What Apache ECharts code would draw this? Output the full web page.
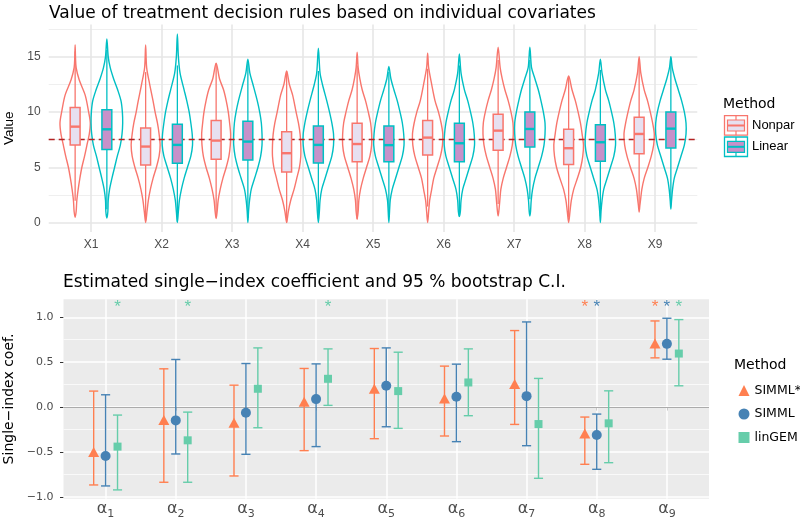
<!DOCTYPE html>
<html><head><meta charset="utf-8">
<script src="https://cdn.jsdelivr.net/npm/echarts@6/dist/echarts.min.js"></script>
<style>html,body{margin:0;padding:0;background:#fff}#c{width:800px;height:523px}</style>
</head><body><div id="c"></div>
<script>
// ===================== DATA: top panel =====================
const covariates = ['X1','X2','X3','X4','X5','X6','X7','X8','X9'];
const topMethods = ['Nonpar','Linear'];
const referenceValue = 7.55;
const topYTicks = [0, 5, 10, 15];
const topYMinor = [2.5, 7.5, 12.5, 17.5];

const nonparQ1 = [7.02, 5.2, 5.72, 4.58, 5.5, 6.11, 6.54, 5.24, 6.23];
const nonparMedian = [8.67, 6.87, 7.41, 6.27, 7.1, 7.68, 8.31, 6.72, 8.01];
const nonparQ3 = [10.39, 8.55, 9.22, 8.22, 8.98, 9.22, 9.79, 8.43, 9.52];
const nonparWhiskerLow = [1.97, 0.18, 0.47, 0, 0.3, 1.45, 1.67, 0.46, 1.3];
const nonparWhiskerHigh = [15.45, 13.6, 14.4, 13.68, 14.2, 13.9, 14.7, 13.2, 14.5];

const linearQ1 = [6.6, 5.36, 5.66, 5.39, 5.5, 5.5, 6.84, 5.54, 6.75];
const linearMedian = [8.43, 7.02, 7.32, 7.02, 7.0, 7.17, 8.46, 7.26, 8.49];
const linearQ3 = [10.2, 8.89, 9.16, 8.73, 8.73, 8.98, 10.0, 8.83, 10.0];
const linearWhiskerLow = [1.2, 0.07, 0.41, 0.38, 0.66, 0.54, 2.1, 0.6, 1.9];
const linearWhiskerHigh = [15.6, 14.2, 14.4, 13.7, 13.6, 14.2, 14.7, 13.8, 14.9];

// violin outlines: [value, relative half-width (density, max ~45)]
const nonparViolinProfiles = [
  [[16.05,0],[15,1],[14,3],[12.9,12],[11.5,30],[10,40],[9,45],[8,42],[7,35],[6,28],[5,20],[4,14],[3,9],[2,5],[1,3],[0.48,0]],
  [[16.05,0],[14,3],[12.5,12],[11,22],[10,28],[9,35],[8,40],[7,43],[6,40],[5,32],[4,22],[3,14],[2,8],[1,4],[0,0]],
  [[14.4,0],[13,10],[12,22],[11,30],[10,36],[9,40],[8,43],[7,42],[6,38],[5,30],[4,20],[3,12],[2,6],[1,3],[0.36,0]],
  [[13.7,0],[12.5,8],[11.5,18],[10,28],[9,35],[8,40],[7,42],[6,42],[5,38],[4,30],[3,22],[2,12],[1,5],[0,0]],
  [[15.4,0],[14,3],[13,8],[12,15],[11,25],[10,33],[9,40],[8,43],[7,43],[6,38],[5,28],[4,18],[3,10],[2,5],[1,3],[0.3,0]],
  [[15.3,0],[14,3],[12.5,12],[11,22],[10,32],[9,40],[8,45],[7,44],[6,38],[5,28],[4,18],[3,12],[2,6],[1,3],[0,0]],
  [[15.84,0],[14,6],[13,12],[12,20],[11,30],[10,38],[9,44],[8,45],[7,42],[6,35],[5,25],[4,15],[3,8],[2,5],[1,2],[0.6,0]],
  [[13.25,0],[12,10],[11,20],[10,28],[9,35],[8,40],[7,44],[6,42],[5,36],[4,26],[3,15],[2,8],[1,4],[0,0]],
  [[15.0,0],[13.5,5],[12,15],[11,25],[10,33],[9,40],[8,45],[7,43],[6,36],[5,26],[4,15],[3,8],[2,4],[1.5,2],[0.96,0]]
];
const linearViolinProfiles = [
  [[16.6,0],[15,4],[14,10],[13,20],[12,32],[11,42],[10,46],[9,47],[8,45],[7,40],[6,31],[5,23],[4,15],[3,8],[2,4],[1,3],[0.4,0]],
  [[17.05,0],[15,3],[13.5,8],[12,20],[11,28],[10,35],[9,40],[8,44],[7,45],[6,40],[5,30],[4,20],[3,12],[2,6],[1,3],[0,0]],
  [[14.76,0],[13.5,6],[12.5,15],[11,28],[10,35],[9,40],[8,42],[7,42],[6,38],[5,30],[4,20],[3,10],[2,5],[1,2],[0,0]],
  [[15.75,0],[13.5,5],[12.5,12],[11,25],[10,33],[9,40],[8,45],[7,45],[6,40],[5,30],[4,20],[3,10],[2,5],[1,3],[0,0]],
  [[14.1,0],[13,6],[12,15],[11,25],[10,33],[9,40],[8,44],[7,45],[6,40],[5,30],[4,20],[3,10],[2,4],[1,2],[0,0]],
  [[15.24,0],[13.5,5],[12,15],[11,25],[10,33],[9,40],[8,44],[7,45],[6,40],[5,30],[4,20],[3,10],[2,5],[1,3],[0.54,0]],
  [[15.84,0],[14,5],[13,15],[12,25],[11,33],[10,40],[9,45],[8,45],[7,42],[6,35],[5,25],[4,15],[3,8],[2,4],[1,2],[0.6,0]],
  [[14.76,0],[13.5,5],[12,15],[11,25],[10,33],[9,40],[8,44],[7,45],[6,40],[5,30],[4,20],[3,10],[2,5],[1,2],[0,0]],
  [[15.0,0],[14,4],[13,12],[12,22],[11,32],[10,40],[9,45],[8,45],[7,40],[6,30],[5,20],[4,10],[3,5],[2,2],[1.23,0]]
];

// ===================== DATA: bottom panel =====================
const coefSubscripts = ['1','2','3','4','5','6','7','8','9'];
const bottomMethods = ['SIMML*','SIMML','linGEM'];
const bottomYTicks = [-1, -0.5, 0, 0.5, 1];
const bottomYMinor = [-0.75, -0.25, 0.25, 0.75];

const simmlStarEst  = [-0.5, -0.144, -0.174, 0.059, 0.204, 0.096, 0.256, -0.293, 0.707];
const simmlStarLow  = [-0.867, -0.837, -0.767, -0.485, -0.352, -0.322, -0.193, -0.637, 0.548];
const simmlStarHigh = [0.178, 0.426, 0.244, 0.43, 0.652, 0.456, 0.852, -0.111, 0.959];
const simmlStarSig  = [0, 0, 0, 0, 0, 0, 0, 1, 1];

const simmlEst  = [-0.544, -0.148, -0.063, 0.089, 0.237, 0.115, 0.122, -0.311, 0.704];
const simmlLow  = [-0.878, -0.522, -0.526, -0.44, -0.219, -0.385, -0.43, -0.693, 0.533];
const simmlHigh = [0.137, 0.53, 0.485, 0.481, 0.659, 0.478, 0.948, -0.078, 0.989];
const simmlSig  = [0, 0, 0, 0, 0, 0, 0, 1, 1];

const lingemEst  = [-0.44, -0.37, 0.204, 0.315, 0.178, 0.274, -0.189, -0.181, 0.596];
const lingemLow  = [-0.922, -0.837, -0.23, 0.019, -0.237, -0.096, -0.793, -0.619, 0.237];
const lingemHigh = [-0.089, -0.056, 0.659, 0.648, 0.611, 0.648, 0.319, 0.181, 0.974];
const lingemSig  = [1, 1, 0, 1, 0, 0, 0, 0, 1];

// ===================== STYLE =====================
const FONT = 'Liberation Sans';
const WIDE = 'DejaVu Sans';
const TXT = '#4D4D4D';
const topColors = ['#F8766D', '#00BFC4'];
const topFills = ['#E7E0F0', '#C791C9'];
const bottomColors = ['#FF7F50', '#4682B4', '#66CDAA'];
const bottomSymbols = ['triangle', 'circle', 'rect'];
const bottomSymbolSizes = [[11, 10], 10, 8];
const VIOLIN_SCALE = 0.215 / 45;
const DODGE_TOP = 0.225;
const BOX_HALF = 0.07;
const DODGE_BOTTOM = 0.17;
const CAP_HALF = 0.065;
const STAR_Y = 1.11;

const positions = covariates.map((c, i) => i + 1);

const chart = echarts.init(document.getElementById('c'), null, {renderer: 'canvas'});

function violinRender(profiles, offset, color) {
  return function (params, api) {
    const x = api.value(0) + offset;
    const prof = profiles[params.dataIndex];
    const right = prof.map(([v, w]) => api.coord([x + w * VIOLIN_SCALE, v]));
    const left = prof.slice(1, -1).reverse().map(([v, w]) => api.coord([x - w * VIOLIN_SCALE, v]));
    return {
      type: 'polygon',
      shape: {points: right.concat(left), smooth: 0.3},
      style: {fill: 'none', stroke: color, lineWidth: 1.4}
    };
  };
}

function boxRender(offset, color, fill) {
  return function (params, api) {
    const x = api.value(0) + offset;
    const q1 = api.value(1), med = api.value(2), q3 = api.value(3), lo = api.value(4), hi = api.value(5);
    const tl = api.coord([x - BOX_HALF, q3]);
    const br = api.coord([x + BOX_HALF, q1]);
    const ml = api.coord([x - BOX_HALF, med]);
    const mr = api.coord([x + BOX_HALF, med]);
    const cTop = api.coord([x, q3]), cHi = api.coord([x, hi]);
    const cBot = api.coord([x, q1]), cLo = api.coord([x, lo]);
    return {
      type: 'group',
      children: [
        {type: 'line', shape: {x1: cTop[0], y1: cTop[1], x2: cHi[0], y2: cHi[1]}, style: {stroke: color, lineWidth: 1.3}},
        {type: 'line', shape: {x1: cBot[0], y1: cBot[1], x2: cLo[0], y2: cLo[1]}, style: {stroke: color, lineWidth: 1.3}},
        {type: 'rect', shape: {x: tl[0], y: tl[1], width: br[0] - tl[0], height: br[1] - tl[1]}, style: {fill: fill, stroke: color, lineWidth: 1.5}},
        {type: 'line', shape: {x1: ml[0], y1: ml[1], x2: mr[0], y2: mr[1]}, style: {stroke: color, lineWidth: 2.4}}
      ]
    };
  };
}

function errorRender(offset, color) {
  return function (params, api) {
    const x = api.value(0) + offset;
    const lo = api.value(1), hi = api.value(2);
    const pLo = api.coord([x, lo]), pHi = api.coord([x, hi]);
    const capL1 = api.coord([x - CAP_HALF, lo]), capR1 = api.coord([x + CAP_HALF, lo]);
    const capL2 = api.coord([x - CAP_HALF, hi]), capR2 = api.coord([x + CAP_HALF, hi]);
    const st = {stroke: color, lineWidth: 1.4};
    return {type: 'group', children: [
      {type: 'line', shape: {x1: pLo[0], y1: pLo[1], x2: pHi[0], y2: pHi[1]}, style: st},
      {type: 'line', shape: {x1: capL1[0], y1: capL1[1], x2: capR1[0], y2: capR1[1]}, style: st},
      {type: 'line', shape: {x1: capL2[0], y1: capL2[1], x2: capR2[0], y2: capR2[1]}, style: st}
    ]};
  };
}

function starRender(offset, color) {
  return function (params, api) {
    const p = api.coord([api.value(0) + offset, STAR_Y]);
    return {type: 'text', x: p[0], y: p[1],
      style: {text: '*', fill: color, font: '17px ' + FONT, align: 'center', verticalAlign: 'middle'}};
  };
}

const topData = [
  positions.map((p, i) => [p, nonparQ1[i], nonparMedian[i], nonparQ3[i], nonparWhiskerLow[i], nonparWhiskerHigh[i]]),
  positions.map((p, i) => [p, linearQ1[i], linearMedian[i], linearQ3[i], linearWhiskerLow[i], linearWhiskerHigh[i]])
];
const profilesByMethod = [nonparViolinProfiles, linearViolinProfiles];

const bottomEst = [simmlStarEst, simmlEst, lingemEst];
const bottomLow = [simmlStarLow, simmlLow, lingemLow];
const bottomHigh = [simmlStarHigh, simmlHigh, lingemHigh];
const bottomSig = [simmlStarSig, simmlSig, lingemSig];

const series = [];

topMethods.forEach((m, k) => {
  const s = {
    name: m, type: 'custom', xAxisIndex: 0, yAxisIndex: 0, z: 2, silent: true,
    renderItem: violinRender(profilesByMethod[k], (k === 0 ? -1 : 1) * DODGE_TOP, topColors[k]),
    data: topData[k].map(d => [d[0], d[2]])
  };
  if (k === 0) {
    s.markLine = {
      silent: true, symbol: 'none', z: 1, label: {show: false}, animation: false,
      data: [].concat(
        topYTicks.map(v => ({yAxis: v, lineStyle: {color: '#E6E6E6', width: 1.6, type: 'solid', opacity: 1}})),
        topYMinor.map(v => ({yAxis: v, lineStyle: {color: '#EFEFEF', width: 1, type: 'solid', opacity: 1}})),
        positions.map(v => ({xAxis: v, lineStyle: {color: '#E6E6E6', width: 1.6, type: 'solid', opacity: 1}}))
      )
    };
  }
  series.push(s);
});
topMethods.forEach((m, k) => {
  const s = {
    name: m + ' box', type: 'custom', xAxisIndex: 0, yAxisIndex: 0, z: 4, silent: true,
    renderItem: boxRender((k === 0 ? -1 : 1) * DODGE_TOP, topColors[k], topFills[k]),
    data: topData[k]
  };
  if (k === 0) {
    s.markLine = {
      silent: true, symbol: 'none', z: 3, label: {show: false}, animation: false,
      data: [{yAxis: referenceValue, lineStyle: {color: '#B22222', width: 1.4, type: [6, 4], opacity: 1}}]
    };
  }
  series.push(s);
});

bottomMethods.forEach((m, k) => {
  const off = (k - 1) * DODGE_BOTTOM;
  const eb = {
    name: m + ' CI', type: 'custom', xAxisIndex: 1, yAxisIndex: 1, z: 3, silent: true,
    renderItem: errorRender(off, bottomColors[k]),
    data: positions.map((p, i) => [p, bottomLow[k][i], bottomHigh[k][i]])
  };
  if (k === 0) {
    eb.markLine = {
      silent: true, symbol: 'none', z: 1, label: {show: false}, animation: false,
      data: [].concat(
        bottomYTicks.map(v => ({yAxis: v, lineStyle: {color: '#FFFFFF', width: 1.5, type: 'solid', opacity: 1}})),
        bottomYMinor.map(v => ({yAxis: v, lineStyle: {color: '#FFFFFF', width: 0.7, type: 'solid', opacity: 1}})),
        positions.map(v => ({xAxis: v, lineStyle: {color: '#FFFFFF', width: 1.5, type: 'solid', opacity: 1}}))
      )
    };
  }
  if (k === 1) {
    eb.markLine = {
      silent: true, symbol: 'none', z: 2, label: {show: false}, animation: false,
      data: [{yAxis: 0, lineStyle: {color: '#ABABAB', width: 1, type: 'solid', opacity: 1}}]
    };
  }
  series.push(eb);
  series.push({
    name: m, type: 'scatter', xAxisIndex: 1, yAxisIndex: 1, z: 4, silent: true,
    symbol: bottomSymbols[k], symbolSize: bottomSymbolSizes[k],
    itemStyle: {color: bottomColors[k], opacity: 1},
    data: positions.map((p, i) => [p + off, bottomEst[k][i]])
  });
  series.push({
    name: m + ' sig', type: 'custom', xAxisIndex: 1, yAxisIndex: 1, z: 5, silent: true,
    renderItem: starRender(off, bottomColors[k]),
    data: positions.filter((p, i) => bottomSig[k][i] === 1).map(p => [p, STAR_Y])
  });
});

const legendGraphics = [
  {type: 'text', x: 723, y: 97, style: {text: 'Method', font: '14px ' + WIDE, fill: '#000'}},
  {type: 'text', x: 734, y: 358, style: {text: 'Method', font: '14px ' + WIDE, fill: '#000'}}
];
topMethods.forEach((m, k) => {
  const y0 = 115.7 + k * 21.3;
  const c = topColors[k];
  legendGraphics.push(
    {type: 'rect', shape: {x: 724.5, y: y0, width: 23, height: 19.5}, style: {fill: '#fff', stroke: c, lineWidth: 1.3}},
    {type: 'line', shape: {x1: 736, y1: y0, x2: 736, y2: y0 + 19.5}, style: {stroke: c, lineWidth: 1.2}},
    {type: 'rect', shape: {x: 727.5, y: y0 + 4.3, width: 17, height: 11}, style: {fill: topFills[k], stroke: c, lineWidth: 1.2}},
    {type: 'line', shape: {x1: 727.5, y1: y0 + 9.8, x2: 744.5, y2: y0 + 9.8}, style: {stroke: c, lineWidth: 2}},
    {type: 'text', x: 752, y: y0 + 9.8, style: {text: m, font: '13px ' + FONT, fill: '#000', verticalAlign: 'middle'}}
  );
});

const option = {
  animation: false,
  backgroundColor: '#FFFFFF',
  textStyle: {fontFamily: FONT},
  title: [
    {text: 'Value of treatment decision rules based on individual covariates', left: 49, top: 5, padding: 0,
     textStyle: {fontSize: 17, fontWeight: 'normal', color: '#000', fontFamily: WIDE}},
    {text: 'Estimated single\u2212index coefficient and 95 % bootstrap C.I.', left: 63, top: 274.5, padding: 0,
     textStyle: {fontSize: 17, fontWeight: 'normal', color: '#000', fontFamily: WIDE}}
  ],
  grid: [
    {left: 48.7, top: 24.5, width: 648.6, height: 207.5, containLabel: false, outerBoundsMode: 'none'},
    {left: 63.5, top: 299.3, width: 645.5, height: 199.4, show: true, backgroundColor: '#EBEBEB', borderWidth: 0, containLabel: false, outerBoundsMode: 'none'}
  ],
  xAxis: [
    {type: 'value', gridIndex: 0, min: 0.4, max: 9.6,
     axisLine: {show: false}, axisTick: {show: false, customValues: positions},
     splitLine: {show: false},
     axisLabel: {customValues: positions, formatter: v => covariates[Math.round(v) - 1], color: TXT, fontSize: 12, margin: 7, fontFamily: FONT}},
    {type: 'value', gridIndex: 1, min: 0.4, max: 9.6,
     axisLine: {show: false}, axisTick: {show: true, customValues: positions, length: 3.5, lineStyle: {color: '#333333', width: 1}},
     splitLine: {show: false},
     axisLabel: {customValues: positions, margin: 2,
       formatter: v => '{a|\u03b1}{s|' + coefSubscripts[Math.round(v) - 1] + '}',
       rich: {a: {fontSize: 16, color: TXT, fontFamily: WIDE, padding: [0, 0, 3, 0]},
              s: {fontSize: 11, color: TXT, fontFamily: WIDE, verticalAlign: 'bottom'}}}}
  ],
  yAxis: [
    {type: 'value', gridIndex: 0, min: -0.85, max: 17.9,
     name: 'Value', nameLocation: 'middle', nameGap: 27, nameRotate: 90,
     nameTextStyle: {fontSize: 13.5, color: '#000', fontFamily: FONT},
     axisLine: {show: false}, axisTick: {show: false, customValues: topYTicks}, splitLine: {show: false},
     axisLabel: {customValues: topYTicks, color: TXT, fontSize: 12, margin: 8, fontFamily: FONT}},
    {type: 'value', gridIndex: 1, min: -1.02, max: 1.2,
     name: 'Single\u2212index coef.', nameLocation: 'middle', nameGap: 42, nameRotate: 90,
     nameTextStyle: {fontSize: 14, color: '#000', fontFamily: WIDE},
     axisLine: {show: false}, axisTick: {show: true, customValues: bottomYTicks, length: 3.5, lineStyle: {color: '#333333'}},
     splitLine: {show: false},
     axisLabel: {customValues: bottomYTicks, color: TXT, fontSize: 11, margin: 10, fontFamily: WIDE,
       formatter: v => (v < 0 ? '\u2212' : '') + Math.abs(v).toFixed(1)}}
  ],
  legend: {
    data: bottomMethods, orient: 'vertical', left: 733.5, top: 379, itemWidth: 11, itemHeight: 11, itemGap: 10.5,
    selectedMode: false, textStyle: {fontSize: 12.5, color: '#000', fontFamily: WIDE}
  },
  graphic: legendGraphics,
  series: series
};
chart.setOption(option);
</script></body></html>
